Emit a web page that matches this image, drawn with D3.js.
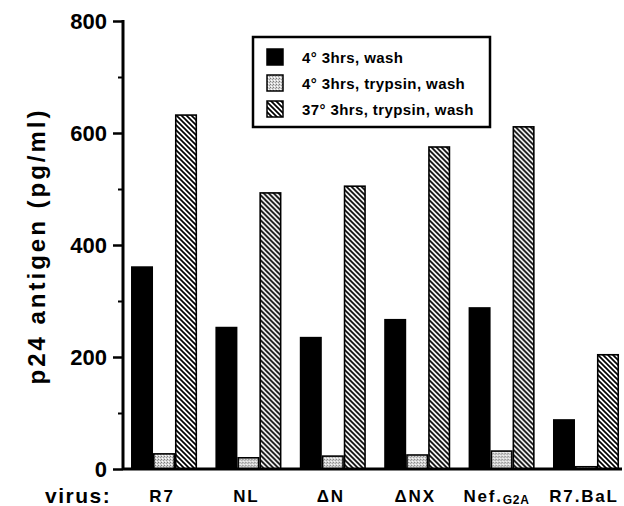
<!DOCTYPE html>
<html>
<head>
<meta charset="utf-8">
<script src="https://cdn.jsdelivr.net/npm/d3@7"></script>
<style>
  html, body { margin: 0; padding: 0; background: #fff; }
  svg { display: block; font-family: "Liberation Sans", Arial, Helvetica, sans-serif; font-weight: bold; }
</style>
</head>
<body>
<svg id="chart" width="624" height="506"></svg>
<script>
// ---- data ----
const categories = ["R7", "NL", "\u0394N", "\u0394NX", "Nef.G2A", "R7.BaL"];
const seriesNames = ["4\u00b0 3hrs, wash", "4\u00b0 3hrs, trypsin, wash", "37\u00b0 3hrs, trypsin, wash"];
const wash4 = [362, 254, 236, 268, 289, 89];
const trypsin4 = [27, 20, 23, 25, 32, 4];
const trypsin37 = [632, 493, 505, 575, 611, 204];
const yTicks = [0, 200, 400, 600, 800];
const yMinorTicks = [100, 300, 500, 700];
const seriesValues = [wash4, trypsin4, trypsin37];

const svg = d3.select("#chart");
const defs = svg.append("defs");

// stipple pattern (gray)
const stip = defs.append("pattern").attr("id", "stipple")
  .attr("patternUnits", "userSpaceOnUse").attr("width", 3).attr("height", 3);
stip.append("rect").attr("width", 3).attr("height", 3).attr("fill", "#d6d6d6");
stip.append("rect").attr("x", 0).attr("y", 0).attr("width", 1).attr("height", 1).attr("fill", "#7a7a7a");
stip.append("rect").attr("x", 2).attr("y", 1).attr("width", 1).attr("height", 1).attr("fill", "#9a9a9a");
stip.append("rect").attr("x", 1).attr("y", 2).attr("width", 1).attr("height", 1).attr("fill", "#ffffff");

// hatch pattern (diagonal "\")
const hatch = defs.append("pattern").attr("id", "hatch")
  .attr("patternUnits", "userSpaceOnUse").attr("width", 5).attr("height", 5);
hatch.append("rect").attr("width", 5).attr("height", 5).attr("fill", "#fff");
hatch.append("path").attr("d", "M0,0L5,5M-1,4L1,6M4,-1L6,1")
  .attr("stroke", "#000").attr("stroke-width", 1.7);

const fills = ["#000", "url(#stipple)", "url(#hatch)"];

// ---- scales ----
const axisX = 123;
const y = d3.scaleLinear().domain([0, 800]).range([469, 21]);
const x0 = d3.scaleBand().domain(categories).range([123, 627]).paddingInner(0.218).paddingOuter(0.095);
const x1 = d3.scaleBand().domain(d3.range(seriesNames.length)).range([0, x0.bandwidth()]).padding(0);

// ---- bars ----
const groups = svg.append("g").selectAll("g").data(categories).join("g")
  .attr("transform", d => `translate(${x0(d)},0)`);
groups.selectAll("rect")
  .data((c, ci) => seriesValues.map((vals, si) => ({ si, v: vals[ci] })))
  .join("rect")
  .attr("x", d => x1(d.si) + (d.si === 0 ? 0 : 0.75))
  .attr("width", d => x1.bandwidth() - (d.si === 0 ? 0 : 1.5))
  .attr("y", d => y(d.v))
  .attr("height", d => y(0) - y(d.v))
  .attr("fill", d => fills[d.si])
  .attr("stroke", d => d.si === 0 ? "none" : "#000")
  .attr("stroke-width", 1.6);

// ---- y axis ----
const yAxis = d3.axisLeft(y).tickValues(yTicks).tickSize(10).tickPadding(6).tickFormat(d3.format("d"));
const gy = svg.append("g").attr("transform", `translate(${axisX},0)`).call(yAxis);
gy.select(".domain").remove();
gy.selectAll(".tick line").attr("stroke", "#000").attr("stroke-width", 2.5);
gy.selectAll(".tick text").attr("font-size", 22).attr("font-weight", "bold")
  .attr("font-family", "Liberation Sans, Arial, sans-serif").attr("fill", "#000");
const yMinor = d3.axisLeft(y).tickValues(yMinorTicks).tickSize(5).tickFormat("");
const gym = svg.append("g").attr("transform", `translate(${axisX},0)`).call(yMinor);
gym.select(".domain").remove();
gym.selectAll(".tick line").attr("stroke", "#000").attr("stroke-width", 2);

svg.append("line").attr("x1", axisX).attr("x2", axisX).attr("y1", y(800) - 1).attr("y2", y(0) + 1)
  .attr("stroke", "#000").attr("stroke-width", 3);
// baseline
svg.append("line").attr("x1", axisX).attr("x2", 622).attr("y1", y(0)).attr("y2", y(0))
  .attr("stroke", "#000").attr("stroke-width", 3);

// y title
svg.append("text").attr("transform", "translate(45,246) rotate(-90)")
  .attr("text-anchor", "middle").attr("font-size", 24).attr("letter-spacing", 3)
  .text("p24 antigen (pg/ml)");

// ---- x labels ----
svg.append("text").attr("x", 45).attr("y", 503).attr("font-size", 21).attr("letter-spacing", 1.5)
  .text("virus:");
const xl = svg.append("g").selectAll("text").data(categories).join("text")
  .attr("x", d => x0(d) + x0.bandwidth() / 2 - (d === "Nef.G2A" ? 5 : 2))
  .attr("y", 502).attr("text-anchor", "middle").attr("font-size", 17).attr("letter-spacing", 1.8);
xl.each(function(d) {
  const t = d3.select(this);
  if (d === "Nef.G2A") {
    t.append("tspan").text("Nef.");
    t.append("tspan").attr("font-size", 12).attr("dy", 1.5).attr("letter-spacing", 0.8).text("G2A");
  } else {
    t.text(d);
  }
});

// ---- legend ----
const lg = svg.append("g");
lg.append("rect").attr("x", 253).attr("y", 37).attr("width", 237).attr("height", 90)
  .attr("fill", "#fff").attr("stroke", "#000").attr("stroke-width", 2.5);
const rowsY = [57, 83, 109];
seriesNames.forEach((name, i) => {
  lg.append("rect").attr("x", 267).attr("y", rowsY[i] - 8).attr("width", 16).attr("height", 16)
    .attr("fill", fills[i]).attr("stroke", "#000").attr("stroke-width", 1.5);
  lg.append("text").attr("x", 302).attr("y", rowsY[i] + 5.5).attr("font-size", 15).attr("letter-spacing", 0.4)
    .text(name);
});
</script>
</body>
</html>
